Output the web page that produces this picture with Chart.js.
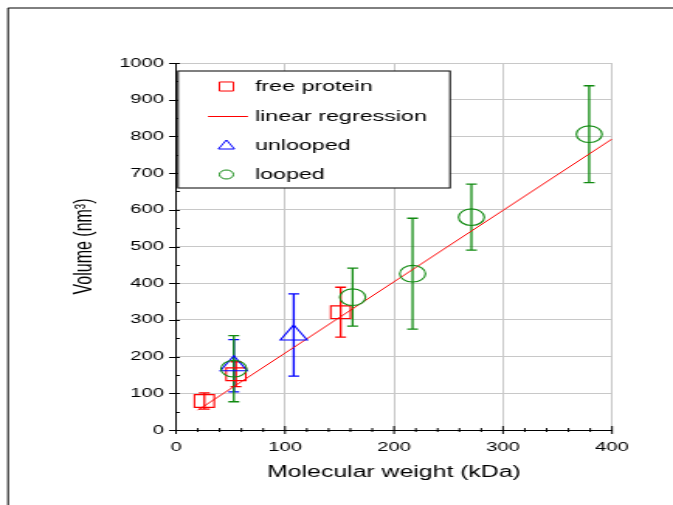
<!DOCTYPE html>
<html>
<head>
<meta charset="utf-8">
<script src="https://cdn.jsdelivr.net/npm/chart.js@4.4.1/dist/chart.umd.min.js"></script>
<style>
    html, body { margin: 0; padding: 0; background: #fff; overflow: hidden; }
    #graph { display: block; }
</style>
</head>
<body>
<!-- the original figure is stretched sideways, so draw it narrow and let css widen it -->
<canvas id="graph" width="434" height="505" style="width:673px;height:505px"></canvas>
<script>
const freeX = [26, 55, 151];
const freeY = [79, 152, 321];
const freeErr = [22, 34, 68];

const unloopedX = [53, 108];
const unloopedY = [175, 259];
const unloopedErr = [71, 112];

const loopedX = [53, 162, 217, 271, 379];
const loopedY = [167, 362, 426, 580, 806];
const loopedErr = [90, 79, 151, 90, 132];

const regX = [20, 400];
const regY = [54, 793];

const xTicks = [0, 100, 200, 300, 400];
const yTicks = [0, 100, 200, 300, 400, 500, 600, 700, 800, 900, 1000];

const RED = '#ff0000';
const BLUE = '#0000ff';
const GREEN = '#108a10';
const FONT = "'Liberation Sans', Arial, sans-serif";

function toPoints(xs, ys) {
    return xs.map((x, i) => ({ x: x, y: ys[i] }));
}

// outer frame (top and left edge of the figure)
const framePlugin = {
    id: 'frame',
    beforeDraw(chart) {
        const ctx = chart.ctx;
        ctx.save();
        ctx.fillStyle = '#fff';
        ctx.fillRect(0, 0, chart.width, chart.height);
        ctx.strokeStyle = '#000';
        ctx.lineWidth = 1;
        ctx.beginPath();
        ctx.moveTo(5.2, chart.height);
        ctx.lineTo(5.2, 8);
        ctx.lineTo(chart.width, 8);
        ctx.stroke();
        ctx.restore();
    }
};

const errorSets = [
    { xs: freeX, ys: freeY, err: freeErr, color: RED },
    { xs: unloopedX, ys: unloopedY, err: unloopedErr, color: BLUE },
    { xs: loopedX, ys: loopedY, err: loopedErr, color: GREEN }
];

const errorBarPlugin = {
    id: 'errorBars',
    beforeDatasetsDraw(chart) {
        const ctx = chart.ctx;
        const sx = chart.scales.x, sy = chart.scales.y;
        ctx.save();
        ctx.lineWidth = 1.3;
        for (let set of errorSets) {
            ctx.strokeStyle = set.color;
            set.xs.forEach((x, i) => {
                let px = sx.getPixelForValue(x);
                let top = sy.getPixelForValue(set.ys[i] + set.err[i]);
                let bot = sy.getPixelForValue(set.ys[i] - set.err[i]);
                ctx.beginPath();
                ctx.moveTo(px, top); ctx.lineTo(px, bot);
                ctx.moveTo(px - 3.5, top); ctx.lineTo(px + 3.5, top);
                ctx.moveTo(px - 3.5, bot); ctx.lineTo(px + 3.5, bot);
                ctx.stroke();
            });
        }
        ctx.restore();
    }
};

// tick marks: major ticks cross the axis, minor ticks sit inside
const tickPlugin = {
    id: 'tickMarks',
    afterDraw(chart) {
        const ctx = chart.ctx;
        const sx = chart.scales.x, sy = chart.scales.y;
        const a = chart.chartArea;
        ctx.save();
        ctx.strokeStyle = '#000';
        ctx.lineWidth = 1;
        ctx.beginPath();
        for (let v = 0; v <= 1000; v += 50) {
            let py = Math.round(sy.getPixelForValue(v)) + 0.5;
            let major = v % 100 === 0;
            ctx.moveTo(a.left - (major ? 4.5 : 0), py);
            ctx.lineTo(a.left + 2.5, py);
        }
        for (let v = 0; v <= 400; v += 20) {
            let px = sx.getPixelForValue(v);
            let major = v % 100 === 0;
            ctx.moveTo(px, a.bottom - (major ? 4 : 2));
            ctx.lineTo(px, a.bottom + (major ? 4 : 2));
        }
        ctx.stroke();
        ctx.restore();
    }
};

// boxed legend inside the plot
const legendPlugin = {
    id: 'boxLegend',
    afterDraw(chart) {
        const ctx = chart.ctx;
        const box = { l: 114.8, t: 71, r: 290.2, b: 188 };
        const rows = [86.5, 116.5, 146, 174.5];
        ctx.save();
        ctx.fillStyle = '#fff';
        ctx.fillRect(box.l, box.t, box.r - box.l, box.b - box.t);
        ctx.strokeStyle = '#000';
        ctx.lineWidth = 1;
        ctx.strokeRect(box.l, box.t, box.r - box.l, box.b - box.t);

        chart.data.datasets.forEach((ds, i) => {
            let y = rows[i];
            ctx.strokeStyle = ds.borderColor;
            ctx.fillStyle = 'rgba(0,0,0,0)';
            ctx.lineWidth = 1;
            if (ds.showLine) {
                ctx.beginPath();
                ctx.moveTo(134.1, y);
                ctx.lineTo(159.9, y);
                ctx.stroke();
            } else {
                Chart.helpers.drawPoint(ctx, {
                    pointStyle: ds.pointStyle,
                    radius: ds.legendRadius,
                    rotation: 0,
                    borderWidth: 1
                }, 146, y);
            }
            ctx.fillStyle = '#000';
            ctx.font = '15px ' + FONT;
            ctx.textBaseline = 'middle';
            ctx.textAlign = 'left';
            ctx.fillText(ds.label, 164.4, y);
        });
        ctx.restore();
    }
};

const gridOpts = { color: '#c8c8c8', lineWidth: 1, drawTicks: false };

new Chart(document.getElementById('graph'), {
    type: 'scatter',
    data: {
        datasets: [
            {
                label: 'free protein',
                data: toPoints(freeX, freeY),
                pointStyle: 'rect',
                pointRadius: 9,
                legendRadius: 6.4,
                borderColor: RED,
                backgroundColor: 'rgba(0,0,0,0)',
                pointBorderWidth: 1.1,
                order: 4
            },
            {
                label: 'linear regression',
                data: toPoints(regX, regY),
                showLine: true,
                pointRadius: 0,
                borderColor: RED,
                backgroundColor: RED,
                borderWidth: 1,
                order: 3
            },
            {
                label: 'unlooped',
                data: toPoints(unloopedX, unloopedY),
                pointStyle: 'triangle',
                pointRadius: 10,
                legendRadius: 6,
                borderColor: BLUE,
                backgroundColor: 'rgba(0,0,0,0)',
                pointBorderWidth: 1.1,
                order: 2
            },
            {
                label: 'looped',
                data: toPoints(loopedX, loopedY),
                pointStyle: 'circle',
                pointRadius: 8.3,
                legendRadius: 4.5,
                borderColor: GREEN,
                backgroundColor: 'rgba(0,0,0,0)',
                pointBorderWidth: 1.1,
                order: 1
            }
        ]
    },
    options: {
        responsive: false,
        animation: false,
        devicePixelRatio: 1,
        layout: { padding: { top: 63, right: 39.3, left: 0, bottom: 0 } },
        plugins: { legend: { display: false }, tooltip: { enabled: false } },
        scales: {
            x: {
                type: 'linear',
                min: 0, max: 400,
                afterBuildTicks: s => { s.ticks = xTicks.map(v => ({ value: v })); },
                afterFit: s => { s.height = 75; },
                grid: gridOpts,
                border: { color: '#000', width: 1 },
                ticks: { color: '#000', font: { family: FONT, size: 13 }, padding: 10, maxRotation: 0,
                    callback: v => String(v) },
                title: {
                    display: true,
                    text: 'Molecular weight (kDa)',
                    color: '#000',
                    font: { family: FONT, size: 16 },
                    padding: { top: 0, bottom: 23 }
                }
            },
            y: {
                type: 'linear',
                min: 0, max: 1000,
                afterBuildTicks: s => { s.ticks = yTicks.map(v => ({ value: v })); },
                afterFit: s => { s.width = 113.5; },
                grid: gridOpts,
                border: { color: '#000', width: 1 },
                ticks: { color: '#000', font: { family: FONT, size: 13 }, padding: 7.7,
                    callback: v => String(v) },
                title: {
                    display: true,
                    text: 'Volume (nm³)',
                    color: '#000',
                    font: { family: "'Liberation Sans Narrow', 'Arial Narrow', " + FONT, size: 16 },
                    padding: { top: 44.6, bottom: 0 }
                }
            }
        }
    },
    plugins: [framePlugin, errorBarPlugin, tickPlugin, legendPlugin]
});
</script>
</body>
</html>
